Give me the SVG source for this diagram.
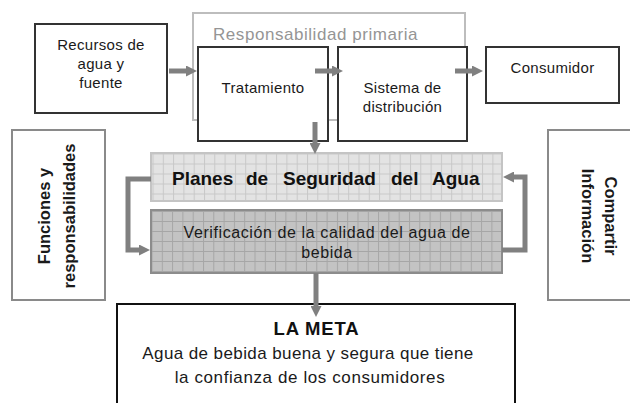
<svg xmlns="http://www.w3.org/2000/svg" width="630" height="403" viewBox="0 0 630 403">
<style>
text{font-family:"Liberation Sans",Arial,Helvetica,sans-serif;fill:#1a1a1a}
.box{fill:#fff;stroke:#333;stroke-width:2}
.side{fill:#fff;stroke:#8a8a8a;stroke-width:2}
.t15{font-size:15px;letter-spacing:0.3px}
.c{text-anchor:middle}
.b16{font-size:16.5px;font-weight:bold}
.conn{fill:none;stroke:#808080;stroke-width:5;stroke-linejoin:miter}
</style>
<defs>
<marker id="ah" markerUnits="userSpaceOnUse" viewBox="0 0 11 11" markerWidth="11" markerHeight="11" refX="3" refY="5.5" orient="auto">
<path d="M0,0 L11,5.5 L0,11 z" fill="#808080"/>
</marker>
<pattern id="gridL" patternUnits="userSpaceOnUse" x="152.5" y="153.5" width="10.3" height="10">
<rect width="10.3" height="10" fill="#e3e3e3"/>
<path d="M0,0.5 H10.3 M0.5,0 V10" stroke="#c8c8c8" stroke-width="1"/>
</pattern>
<pattern id="gridD" patternUnits="userSpaceOnUse" x="151.5" y="211" width="10.3" height="10">
<rect width="10.3" height="10" fill="#c3c3c3"/>
<path d="M0,0.5 H10.3 M0.5,0 V10" stroke="#a6a6a6" stroke-width="1"/>
</pattern>
</defs>

<g id="responsabilidad-primaria">
<rect x="193" y="13" width="272" height="107" fill="#fff" stroke="#bdbdbd" stroke-width="2"/>
<text x="213" y="40" style="font-size:17px;letter-spacing:0.55px;fill:#959595">Responsabilidad primaria</text>
</g>

<g id="recursos">
<rect class="box" x="35" y="24" width="132" height="89"/>
<text class="t15 c" x="101" y="50">Recursos de</text>
<text class="t15 c" x="101" y="69">agua y</text>
<text class="t15 c" x="101" y="88">fuente</text>
</g>

<g id="tratamiento">
<rect class="box" x="198" y="47" width="130" height="94"/>
<text class="t15 c" x="263" y="93">Tratamiento</text>
</g>

<g id="sistema">
<rect class="box" x="338" y="47" width="129" height="94"/>
<text class="t15 c" x="402.5" y="93">Sistema de</text>
<text class="t15 c" x="402.5" y="112">distribución</text>
</g>

<g id="consumidor">
<rect class="box" x="486" y="47" width="133" height="56"/>
<text class="t15 c" x="552.5" y="73">Consumidor</text>
</g>

<g id="funciones">
<rect class="side" x="12" y="130" width="93" height="170"/>
<text class="b16 c" transform="translate(49.5,216) rotate(-90)">Funciones y</text>
<text class="b16 c" transform="translate(74.5,216) rotate(-90)">responsabilidades</text>
</g>

<g id="compartir">
<rect class="side" x="548" y="130" width="100" height="170"/>
<text class="b16 c" transform="translate(605,216) rotate(90)">Compartir</text>
<text class="b16 c" transform="translate(582,216) rotate(90)">Información</text>
</g>

<g id="planes">
<rect x="151" y="153" width="351" height="48" fill="url(#gridL)" stroke="#c4c4c4" stroke-width="2"/>
<text y="185" style="font-size:19px;font-weight:bold;fill:#111"><tspan x="172">Planes</tspan><tspan x="246">de</tspan><tspan x="283">Seguridad</tspan><tspan x="391">del</tspan><tspan x="432">Agua</tspan></text>
</g>

<g id="verificacion">
<rect x="151" y="210" width="351" height="63" fill="url(#gridD)" stroke="#8c8c8c" stroke-width="2"/>
<text class="c" x="327" y="238" style="font-size:16px;letter-spacing:0.6px">Verificación de la calidad del agua de</text>
<text class="c" x="327" y="258" style="font-size:16px;letter-spacing:0.6px">bebida</text>
</g>

<g id="la-meta">
<rect x="117" y="304" width="398" height="120" fill="#fff" stroke="#111" stroke-width="2"/>
<text class="c" x="316.5" y="335" style="font-size:18.5px;font-weight:bold;letter-spacing:0.8px;fill:#111">LA META</text>
<text class="c" x="308" y="359" style="font-size:17px;letter-spacing:0.4px">Agua de bebida buena y segura que tiene</text>
<text class="c" x="310" y="383" style="font-size:17px;letter-spacing:0.6px">la confianza de los consumidores</text>
</g>

<g id="connectors">
<path class="conn" d="M169,71 H189" marker-end="url(#ah)"/>
<path class="conn" d="M315,71 H335" marker-end="url(#ah)"/>
<path class="conn" d="M455,71 H475" marker-end="url(#ah)"/>
<path class="conn" d="M315,122 V146" marker-end="url(#ah)"/>
<path class="conn" d="M151,179 H128 V250 H142" marker-end="url(#ah)"/>
<path class="conn" d="M502,250 H525 V177 H511" marker-end="url(#ah)"/>
<path class="conn" d="M316,273 V309" marker-end="url(#ah)"/>
</g>
</svg>
